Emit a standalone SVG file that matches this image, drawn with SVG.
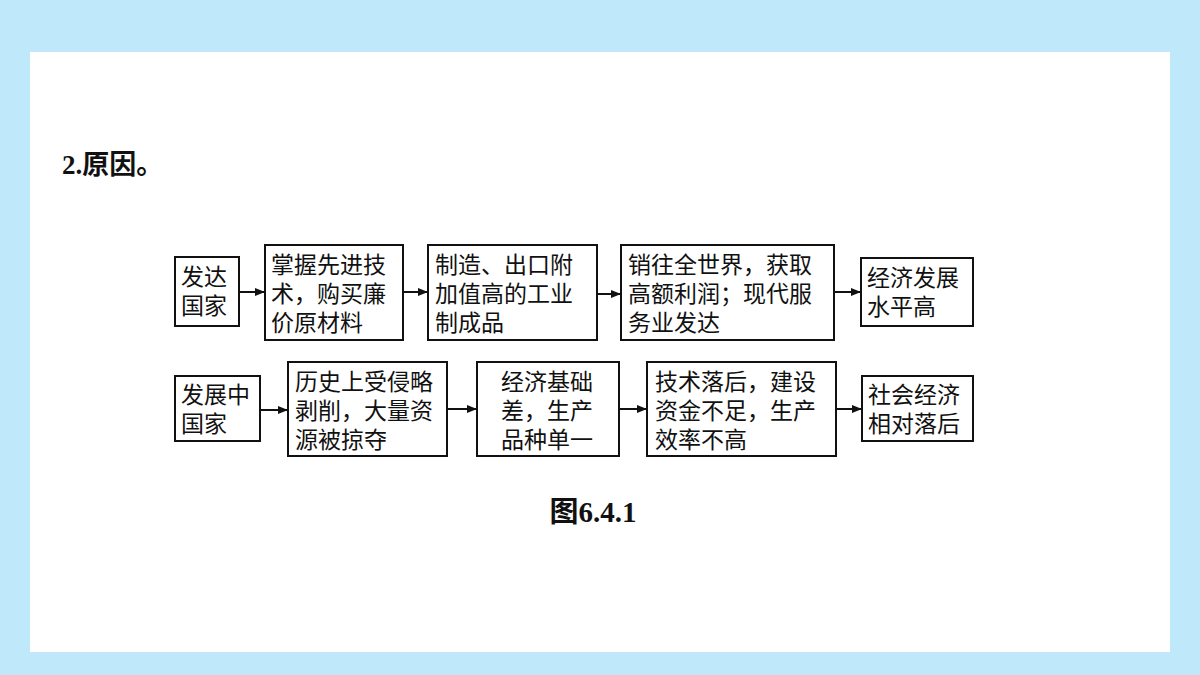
<svg xmlns="http://www.w3.org/2000/svg" width="1200" height="675" viewBox="0 0 1200 675">
<defs>
<style>
.b{fill:#fff;stroke:#111;stroke-width:2}
.t{font-family:"Liberation Serif","Noto Sans CJK SC",serif;font-size:23px;fill:#111}
.c{stroke:#111;stroke-width:2;marker-end:url(#a)}
</style>
<marker id="a" markerWidth="10" markerHeight="8" refX="9" refY="4" orient="auto" markerUnits="userSpaceOnUse"><path d="M0,0 L10,4 L0,8 Z" fill="#111"/></marker>
</defs>
<rect width="1200" height="675" fill="#bfe9fb"/>
<rect x="30" y="52" width="1140" height="600" fill="#fff"/>
<text x="62" y="174" font-family="Liberation Serif,Noto Sans CJK SC,serif" font-size="27" font-weight="bold" fill="#111">2.原因。</text>
<g id="n1"><rect class="b" x="175" y="257" width="64" height="69"/><text class="t"><tspan x="181" y="285">发达</tspan><tspan x="181" y="314">国家</tspan></text></g>
<g id="n2"><rect class="b" x="265" y="245" width="138" height="95"/><text class="t"><tspan x="271" y="273">掌握先进技</tspan><tspan x="271" y="302">术，购买廉</tspan><tspan x="271" y="331">价原材料</tspan></text></g>
<g id="n3"><rect class="b" x="428" y="245" width="169" height="95"/><text class="t"><tspan x="435" y="273">制造、出口附</tspan><tspan x="435" y="302">加值高的工业</tspan><tspan x="435" y="331">制成品</tspan></text></g>
<g id="n4"><rect class="b" x="621" y="245" width="213" height="95"/><text class="t"><tspan x="628" y="273">销往全世界，获取</tspan><tspan x="628" y="302">高额利润；现代服</tspan><tspan x="628" y="331">务业发达</tspan></text></g>
<g id="n5"><rect class="b" x="861" y="258" width="112" height="68"/><text class="t"><tspan x="867" y="286">经济发展</tspan><tspan x="867" y="315">水平高</tspan></text></g>
<g id="m1"><rect class="b" x="175" y="376" width="85" height="65"/><text class="t"><tspan x="181" y="403">发展中</tspan><tspan x="181" y="432">国家</tspan></text></g>
<g id="m2"><rect class="b" x="288" y="362" width="159" height="94"/><text class="t"><tspan x="295" y="390">历史上受侵略</tspan><tspan x="295" y="419">剥削，大量资</tspan><tspan x="295" y="448">源被掠夺</tspan></text></g>
<g id="m3"><rect class="b" x="477" y="362" width="142" height="94"/><text class="t"><tspan x="501" y="390">经济基础</tspan><tspan x="501" y="419">差，生产</tspan><tspan x="501" y="448">品种单一</tspan></text></g>
<g id="m4"><rect class="b" x="647" y="362" width="189" height="94"/><text class="t"><tspan x="655" y="390">技术落后，建设</tspan><tspan x="655" y="419">资金不足，生产</tspan><tspan x="655" y="448">效率不高</tspan></text></g>
<g id="m5"><rect class="b" x="862" y="376" width="111" height="65"/><text class="t"><tspan x="868" y="403">社会经济</tspan><tspan x="868" y="432">相对落后</tspan></text></g>
<g id="connectors">
<line class="c" x1="239" y1="292" x2="264" y2="292"/>
<line class="c" x1="403" y1="292" x2="427" y2="292"/>
<line class="c" x1="597" y1="294" x2="620" y2="294"/>
<line class="c" x1="834" y1="292" x2="860" y2="292"/>
<line class="c" x1="260" y1="410" x2="287" y2="410"/>
<line class="c" x1="447" y1="409" x2="476" y2="409"/>
<line class="c" x1="619" y1="409" x2="646" y2="409"/>
<line class="c" x1="836" y1="409" x2="861" y2="409"/>
</g>
<text x="593" y="522" text-anchor="middle" font-family="Liberation Serif,Noto Sans CJK SC,serif" font-size="29" font-weight="bold" fill="#111">图6.4.1</text>
</svg>
